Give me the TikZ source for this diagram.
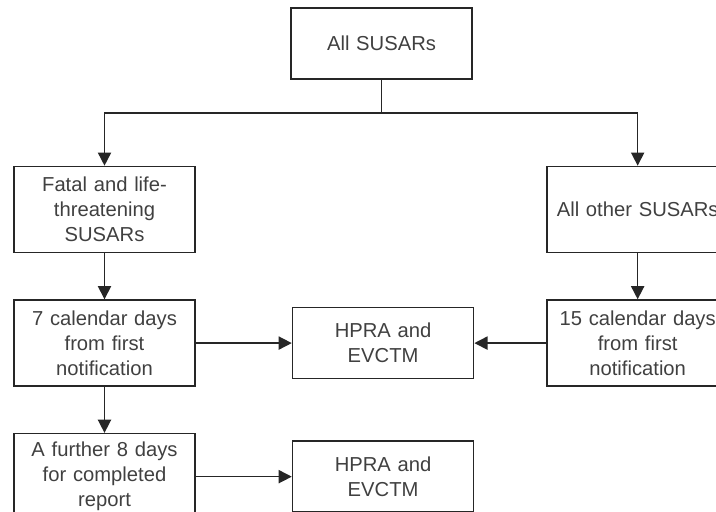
\documentclass[tikz,border=0pt]{standalone}
\usepackage{fontspec}
\setmainfont{Liberation Sans}
\usetikzlibrary{arrows.meta,positioning}

\begin{document}
\begin{tikzpicture} [
   ->, >={Triangle[length=7.5pt,width=7.5pt]}, line width=0.9pt, color=black!85,
   node distance=0.92cm,
   b/.style={rectangle, draw, minimum width=3.62cm, minimum height=1.72cm,
             text width=3.5cm, align=center, inner sep=0pt, text=black!75,
             font=\fontsize{11.5}{14.2}\selectfont},
   s/.style={b, minimum height=1.42cm}
]
   \clip (0,0) rectangle (14.32,10.22);
   \node (All) [s] at (7.63,9.35) {All SUSARs};
   \coordinate (split) at (7.63,7.96);
   \node (fatal) [b] at (2.09,6.03) {Fatal and life-\\threatening\\SUSARs};
   \node (days7) [b, below=of fatal] {7 calendar days\\from first\\notification};
   \node (hpra1) [s, right=1.92cm of days7] {HPRA and\\EVCTM};
   \node (days15) [b, right=1.44cm of hpra1] {15 calendar days\\from first\\notification};
   \node (other) [b, above=of days15] {All other SUSARs};
   \node (further) [b, below=of days7] {A further 8 days\\for completed\\report};
   \node (hpra2) [s, right=1.92cm of further] {HPRA and\\EVCTM};
   \draw (All) -- (split) -| (fatal);
   \draw (split) -| (other);
   \path (fatal) edge (days7)
         (days7) edge (hpra1)
                 edge (further)
         (other) edge (days15)
         (days15) edge (hpra1)
         (further) edge (hpra2);
\end{tikzpicture}
\end{document}
